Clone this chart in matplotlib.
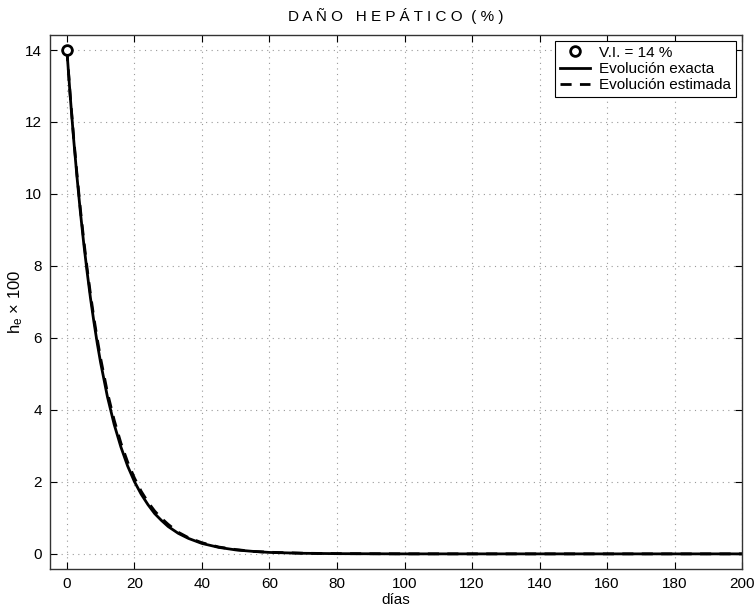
import matplotlib
matplotlib.use("Agg")
import matplotlib.pyplot as plt

plt.rcParams['font.family'] = ['Liberation Sans', 'DejaVu Sans']
plt.rcParams['mathtext.default'] = 'regular'

# data
days = [0, 1, 2, 3, 4, 5, 6, 7, 8, 9, 10, 12, 14, 16, 18, 20, 22, 24, 26, 28,
        30, 33, 36, 40, 45, 50, 55, 60, 70, 80, 100, 120, 140, 160, 180, 200]
exact = [14.0, 12.71, 11.53, 10.47, 9.50, 8.62, 7.83, 7.10, 6.45, 5.85, 5.31,
         4.37, 3.60, 2.97, 2.44, 2.01, 1.66, 1.37, 1.12, 0.93, 0.76, 0.57,
         0.43, 0.29, 0.18, 0.11, 0.07, 0.04, 0.016, 0.006, 0.0, 0.0, 0.0, 0.0, 0.0, 0.0]
estimated = [14.0, 12.73, 11.58, 10.54, 9.58, 8.72, 7.93, 7.21, 6.56, 5.97, 5.43,
             4.49, 3.72, 3.08, 2.55, 2.11, 1.74, 1.44, 1.19, 0.99, 0.82, 0.60,
             0.45, 0.31, 0.19, 0.12, 0.07, 0.045, 0.018, 0.007, 0.001, 0.0, 0.0, 0.0, 0.0, 0.0]
vi_day = [0]
vi_val = [14]
xticks = list(range(0, 201, 20))
yticks = list(range(0, 15, 2))

fig = plt.figure(figsize=(7.54, 6.09), dpi=100)
ax = fig.add_axes([0.0663, 0.0657, 0.918, 0.877])

ax.plot(vi_day, vi_val, 'o', mfc='white', mec='black', mew=2, ms=7,
        label='V.I. = 14 %', zorder=5)
ax.plot(days, exact, '-', color='black', lw=2, label='Evolución exacta')
ax.plot(days, estimated, '--', color='black', lw=2, dashes=(4, 3),
        label='Evolución estimada')

ax.set_xlim(-5, 200)
ax.set_ylim(-0.42, 14.42)
ax.set_xticks(xticks)
ax.set_yticks(yticks)
ax.tick_params(direction='in', top=True, right=True, labelsize=11, length=5,
               width=0.8, pad=6)
ax.grid(True, linestyle=(0, (1, 4)), color='#999999', linewidth=0.8)
for s in ax.spines.values():
    s.set_linewidth(1.0)
    s.set_color('#333333')

ax.set_xlabel('días', fontsize=11, labelpad=1)
ax.set_ylabel('h$_e$ × 100', fontsize=12, labelpad=0)
ax.set_title('D A Ñ O   H E P Á T I C O  ( % )', fontsize=11, pad=10)

leg = ax.legend(loc='upper right', fontsize=11, frameon=True, fancybox=False,
                edgecolor='black', framealpha=1, borderaxespad=0.4,
                handlelength=2.0, handletextpad=0.6, borderpad=0.3,
                labelspacing=0.15)
leg.get_frame().set_linewidth(0.8)

fig.savefig('out.png', dpi=100)
